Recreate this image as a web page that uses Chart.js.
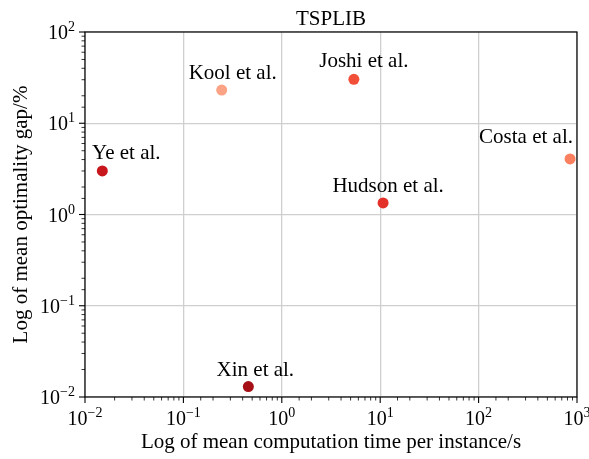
<!DOCTYPE html>
<html>
<head>
<meta charset="utf-8">
<script src="https://cdn.jsdelivr.net/npm/chart.js@4.4.0/dist/chart.umd.min.js"></script>
<style>
  body { margin: 0; background: #fff; }
  #wrap { width: 589px; height: 459px; }
</style>
</head>
<body>
<div id="wrap"><canvas id="myChart" width="589" height="459"></canvas></div>
<script>
// data
const methods = ['Ye et al.', 'Kool et al.', 'Joshi et al.', 'Costa et al.', 'Hudson et al.', 'Xin et al.'];
const timeSec = [0.015, 0.245, 5.4, 850, 10.7, 0.457];
const gapPct = [3.0, 23.1, 30.3, 4.06, 1.34, 0.013];
const colours = ['#c8161d', '#fca386', '#f24f38', '#fb8060', '#e3312a', '#a50f15'];
const xTickPowers = [-2, -1, 0, 1, 2, 3];
const yTickPowers = [-2, -1, 0, 1, 2];

// label placement relative to the dot, in pixels
const labelOffsets = [[24, -12], [11, -11], [10, -12], [-44, -16], [5, -11], [7, -11]];

const serif = '"Liberation Serif", "Times New Roman", serif';
const sup = { '-': '\u2212', '0': '0', '1': '1', '2': '2', '3': '3' };

function isMajor(v) {
    const l = Math.log10(v);
    return Math.abs(l - Math.round(l)) < 1e-6;
}

// draws "10" with a raised exponent
function drawPow(c, p, x, y, align) {
    const big = '20px ' + serif, small = '14px ' + serif;
    const exp = String(p).split('').map(ch => sup[ch]).join('');
    c.font = big;
    const w1 = c.measureText('10').width;
    c.font = small;
    const w2 = c.measureText(exp).width;
    let x0 = x;
    if (align === 'center') x0 = x - (w1 + w2) / 2;
    if (align === 'right') x0 = x - (w1 + w2);
    c.fillStyle = '#000';
    c.textBaseline = 'alphabetic';
    c.textAlign = 'left';
    c.font = big;
    c.fillText('10', x0, y);
    c.font = small;
    c.fillText(exp, x0 + w1, y - 8);
}

const decor = {
    id: 'decor',
    afterDraw(chart) {
        const c = chart.ctx;
        const a = chart.chartArea;
        const xs = chart.scales.x, ys = chart.scales.y;
        c.save();
        // frame
        c.strokeStyle = '#000';
        c.lineWidth = 1.2;
        c.strokeRect(a.left, a.top, a.right - a.left, a.bottom - a.top);
        // ticks
        xs.ticks.forEach(t => {
            const px = xs.getPixelForValue(t.value);
            const len = isMajor(t.value) ? 6 : 3.5;
            c.lineWidth = isMajor(t.value) ? 1.1 : 0.8;
            c.beginPath();
            c.moveTo(px, a.bottom);
            c.lineTo(px, a.bottom + len);
            c.stroke();
        });
        ys.ticks.forEach(t => {
            const py = ys.getPixelForValue(t.value);
            const len = isMajor(t.value) ? 6 : 3.5;
            c.lineWidth = isMajor(t.value) ? 1.1 : 0.8;
            c.beginPath();
            c.moveTo(a.left, py);
            c.lineTo(a.left - len, py);
            c.stroke();
        });
        // tick labels
        xTickPowers.forEach(p => {
            drawPow(c, p, xs.getPixelForValue(Math.pow(10, p)), a.bottom + 28, 'center');
        });
        yTickPowers.forEach(p => {
            drawPow(c, p, a.left - 10, ys.getPixelForValue(Math.pow(10, p)) + 7, 'right');
        });
        // title
        c.fillStyle = '#000';
        c.font = '21px ' + serif;
        c.textAlign = 'center';
        c.textBaseline = 'alphabetic';
        c.fillText('TSPLIB', (a.left + a.right) / 2, a.top - 7);
        // point labels
        const meta = chart.getDatasetMeta(0);
        meta.data.forEach((pt, i) => {
            c.fillText(methods[i], pt.x + labelOffsets[i][0], pt.y + labelOffsets[i][1]);
        });
        c.restore();
    }
};

const ctx = document.getElementById('myChart');

const myChart = new Chart(ctx, {
    type: 'scatter',
    data: {
        datasets: [{
            label: 'TSPLIB',
            data: timeSec.map((t, i) => ({ x: t, y: gapPct[i] })),
            backgroundColor: colours,
            borderWidth: 0,
            pointRadius: 5.5,
            pointHoverRadius: 5.5
        }]
    },
    plugins: [decor],
    options: {
        responsive: false,
        animation: false,
        layout: { padding: { top: 32, right: 12, left: 0, bottom: 0 } },
        plugins: {
            legend: { display: false },
            tooltip: { enabled: false }
        },
        scales: {
            x: {
                type: 'logarithmic',
                min: 0.01,
                max: 1000,
                afterFit: s => { s.height = 62; },
                grid: {
                    color: c => (c.tick && isMajor(c.tick.value)) ? '#cfcfcf' : 'rgba(0,0,0,0)',
                    lineWidth: 1.3,
                    drawTicks: false
                },
                border: { display: false },
                ticks: { autoSkip: false, callback: () => '', padding: 0 },
                title: {
                    display: true,
                    text: 'Log of mean computation time per instance/s',
                    font: { family: serif, size: 21 },
                    color: '#000',
                    padding: { top: 0, bottom: 4 }
                }
            },
            y: {
                type: 'logarithmic',
                min: 0.01,
                max: 100,
                afterFit: s => { s.width = 85; },
                grid: {
                    color: c => (c.tick && isMajor(c.tick.value)) ? '#cfcfcf' : 'rgba(0,0,0,0)',
                    lineWidth: 1.3,
                    drawTicks: false
                },
                border: { display: false },
                ticks: { autoSkip: false, callback: () => '', padding: 0 },
                title: {
                    display: true,
                    text: 'Log of mean optimality gap/%',
                    font: { family: serif, size: 21 },
                    color: '#000',
                    padding: { top: 9, bottom: 0 }
                }
            }
        }
    }
});
</script>
</body>
</html>
